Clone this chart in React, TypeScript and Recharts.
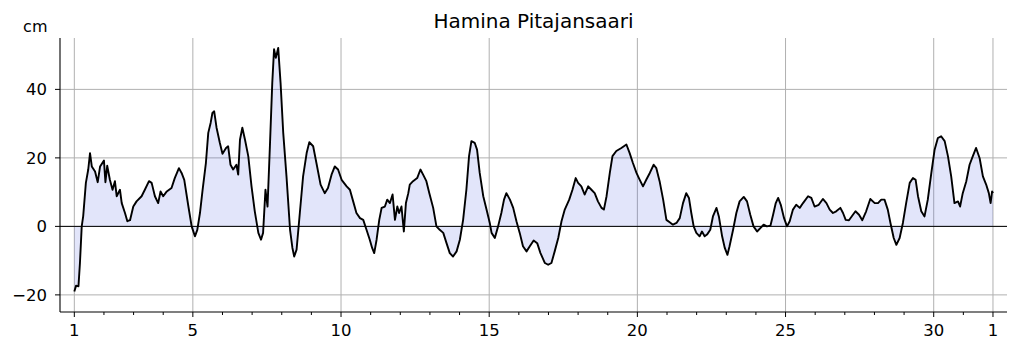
import React from 'react';
import { ComposedChart, Area, XAxis, YAxis, CartesianGrid, ReferenceLine } from 'recharts';

const TITLE = 'Hamina Pitajansaari';
const UNIT = 'cm';

// Day of month (fractional) for each sample; 32 = 1st of the following month
const DAYS = [
  1.00, 1.06, 1.14, 1.19, 1.25, 1.30, 1.39, 1.47, 1.53, 1.59, 1.70, 1.79, 1.87, 2.00, 2.05, 2.11, 2.20, 2.29, 2.37, 2.43,
  2.54, 2.60, 2.71, 2.79, 2.88, 2.99, 3.10, 3.27, 3.38, 3.52, 3.61, 3.72, 3.83, 3.91, 4.00, 4.12, 4.28, 4.39, 4.53, 4.62,
  4.71, 4.85, 4.96, 5.07, 5.15, 5.24, 5.33, 5.44, 5.52, 5.60, 5.66, 5.72, 5.80, 5.91, 6.00, 6.12, 6.19, 6.27, 6.36, 6.47,
  6.53, 6.59, 6.67, 6.76, 6.87, 6.98, 7.09, 7.21, 7.30, 7.37, 7.45, 7.52, 7.60, 7.68, 7.74, 7.80, 7.88, 7.96, 8.05, 8.16,
  8.28, 8.36, 8.42, 8.50, 8.61, 8.72, 8.84, 8.93, 9.06, 9.17, 9.31, 9.45, 9.56, 9.68, 9.79, 9.90, 10.02, 10.19, 10.30, 10.41,
  10.52, 10.64, 10.75, 10.86, 10.97, 11.05, 11.12, 11.20, 11.29, 11.37, 11.48, 11.56, 11.65, 11.74, 11.82, 11.90, 11.96, 12.04, 12.12, 12.19,
  12.27, 12.32, 12.43, 12.57, 12.68, 12.77, 12.88, 12.98, 13.11, 13.22, 13.33, 13.45, 13.56, 13.67, 13.78, 13.90, 14.01, 14.12, 14.23, 14.32,
  14.40, 14.51, 14.59, 14.68, 14.80, 14.91, 15.02, 15.08, 15.19, 15.30, 15.41, 15.50, 15.58, 15.70, 15.81, 15.92, 16.03, 16.14, 16.26, 16.37,
  16.50, 16.62, 16.73, 16.88, 16.99, 17.10, 17.21, 17.33, 17.44, 17.55, 17.70, 17.81, 17.92, 18.00, 18.11, 18.22, 18.34, 18.45, 18.56, 18.67,
  18.79, 18.87, 18.96, 19.07, 19.16, 19.29, 19.46, 19.63, 19.74, 19.85, 19.97, 20.08, 20.19, 20.30, 20.42, 20.55, 20.64, 20.75, 20.87, 20.98,
  21.09, 21.20, 21.32, 21.43, 21.54, 21.65, 21.74, 21.82, 21.90, 21.99, 22.10, 22.18, 22.27, 22.35, 22.46, 22.55, 22.67, 22.75, 22.86, 22.95,
  23.04, 23.11, 23.23, 23.34, 23.45, 23.59, 23.70, 23.81, 23.92, 24.04, 24.15, 24.26, 24.37, 24.49, 24.58, 24.67, 24.75, 24.84, 24.95, 25.05,
  25.14, 25.25, 25.36, 25.48, 25.59, 25.76, 25.87, 25.98, 26.12, 26.26, 26.38, 26.49, 26.60, 26.71, 26.85, 26.94, 27.03, 27.14, 27.25, 27.36,
  27.48, 27.59, 27.72, 27.86, 28.01, 28.12, 28.23, 28.34, 28.45, 28.54, 28.65, 28.74, 28.85, 28.96, 29.07, 29.19, 29.30, 29.39, 29.47, 29.58,
  29.69, 29.80, 29.92, 30.03, 30.14, 30.25, 30.37, 30.48, 30.59, 30.70, 30.82, 30.89, 30.98, 31.10, 31.21, 31.32, 31.43, 31.55, 31.66, 31.77,
  31.86, 31.92, 31.97, 32.00,
];

// Sea level in cm
const LEVELS = [
  -19, -17.3, -17.5, -10.7, 0, 3, 12.7, 16.6, 21.4, 17.5, 16, 12.9, 17.5, 19.2, 12.9, 17.7, 13.6, 10.7, 13.2, 8.8,
  10.7, 6.8, 3.9, 1.5, 1.8, 5.8, 7.3, 8.8, 10.7, 13.2, 12.7, 8.8, 6.8, 10.2, 8.8, 10.2, 11.2, 14.1, 17, 15.6,
  13.6, 5.8, 0, -2.9, -1, 3.9, 10.7, 18.5, 27.3, 30.2, 33.1, 33.6, 28.8, 24.4, 21.2, 22.9, 23.4, 18, 16.6, 18,
  15.1, 25.3, 28.8, 25.3, 20.5, 11.7, 4.4, -1.9, -3.9, -1.9, 10.7, 5.8, 23.4, 41.9, 51.7, 49.2, 52.1, 41.9, 27.3, 14.6,
  -1, -6.3, -8.8, -6.8, 3.9, 14.6, 21.4, 24.6, 23.4, 18.5, 12.2, 9.7, 11.2, 15.1, 17.5, 16.6, 13.6, 11.7, 10.7, 7.3,
  3.9, 2.4, 1.9, -1, -3.9, -6.3, -7.8, -3.9, 1.9, 5.4, 5.8, 7.8, 6.8, 9.3, 1.9, 5.8, 3.9, 5.8, -1.5, 6.8,
  9.7, 12.2, 13.2, 14.1, 16.6, 15.1, 13.2, 9.7, 5.4, 0, -1, -1.9, -4.9, -7.8, -8.8, -7.3, -3.9, 1.9, 10.7, 20.5,
  24.9, 24.4, 22.4, 15.6, 8.8, 4.9, 1, -1.9, -3.4, 0, 3.9, 7.8, 9.7, 7.8, 5.4, 1.5, -1.9, -5.8, -7.3, -5.8,
  -4.1, -4.9, -7.8, -10.7, -11.2, -10.7, -7.3, -3.4, 1.5, 4.9, 7.8, 10.7, 14.1, 12.7, 11.7, 9.3, 11.7, 10.7, 9.7, 7.3,
  5.4, 4.9, 8.8, 15.6, 20.5, 22, 22.9, 23.9, 21.4, 18.5, 15.6, 13.6, 11.7, 13.6, 15.6, 18, 17, 13.2, 7.8, 1.9,
  1.2, 0.5, 1, 2.4, 6.8, 9.7, 8.3, 3.9, 0, -1.9, -2.9, -1.5, -2.9, -2.4, -1, 2.9, 5.4, 2.9, -2.9, -6.3,
  -8.3, -5.8, -1, 3.9, 7.3, 8.6, 7.3, 3.4, 0, -1.5, -0.5, 0.5, 0, 0.2, 3.4, 6.8, 8.3, 6.3, 2.4, 0,
  1.5, 4.9, 6.3, 5.4, 6.8, 8.8, 8.3, 5.8, 6.3, 8, 6.8, 4.9, 3.9, 4.4, 5.4, 3.9, 1.9, 1.8, 3.1, 4.4,
  3.4, 1.8, 4.4, 8, 6.8, 6.8, 7.8, 7.8, 4.9, 1, -3.4, -5.4, -3.4, 1, 6.8, 12.7, 14.1, 13.6, 8.8, 4.4,
  2.9, 7.8, 15.6, 22.4, 25.8, 26.3, 24.9, 20.5, 14.6, 6.8, 7.3, 5.8, 9.7, 13.2, 18, 20.5, 22.9, 19.9, 14.6, 12.2,
  9.7, 6.8, 10.2, 9.7,
];

const X_TICKS = [1, 2, 3, 4, 5, 6, 7, 8, 9, 10, 11, 12, 13, 14, 15, 16, 17, 18, 19, 20, 21, 22, 23, 24, 25, 26, 27, 28, 29, 30, 31, 32];
const MAJOR_DAYS = [1, 5, 10, 15, 20, 25, 30, 32];
const MAJOR_LABELS = ['1', '5', '10', '15', '20', '25', '30', '1'];
const Y_TICKS = [-20, 0, 20, 40];

const X_DOMAIN: [number, number] = [0.517, 32.473];
const Y_DOMAIN: [number, number] = [-25, 55];

const data = DAYS.map((day, i) => ({ day, level: LEVELS[i] }));

const FONT = '"DejaVu Sans", Verdana, sans-serif';

function DayTick(props: any) {
  const { x, y, payload } = props;
  const v = payload.value;
  const idx = MAJOR_DAYS.indexOf(v);
  const major = idx >= 0;
  return (
    <g>
      <line x1={x} x2={x} y1={y} y2={y + (major ? 5 : 3)} stroke="#000" strokeWidth={1} />
      {major && (
        <text x={x} y={y + 24} textAnchor="middle" fontSize={16.5} fontFamily={FONT} fill="#000">
          {MAJOR_LABELS[idx]}
        </text>
      )}
    </g>
  );
}

const fmtY = (v: number) => (v < 0 ? '\u2212' + Math.abs(v) : String(v));

export default function App() {
  return (
    <div style={{ position: 'absolute', left: 0, top: 0, width: 1019, height: 352, background: '#fff' }}>
      <ComposedChart
        width={1019}
        height={352}
        data={data}
        margin={{ top: 38, right: 12, bottom: 10, left: 0 }}
      >
        <CartesianGrid
          stroke="#b0b0b0"
          strokeWidth={1}
          verticalValues={MAJOR_DAYS}
          horizontalValues={Y_TICKS}
        />
        <XAxis
          dataKey="day"
          type="number"
          domain={X_DOMAIN}
          allowDataOverflow
          ticks={X_TICKS}
          interval={0}
          tickSize={0}
          tickMargin={0}
          tickLine={false}
          tick={<DayTick />}
          height={30}
          axisLine={{ stroke: '#000', strokeWidth: 1.1 }}
        />
        <XAxis
          xAxisId="top"
          orientation="top"
          type="number"
          domain={X_DOMAIN}
          allowDataOverflow
          height={0}
          tick={false}
          tickLine={false}
          axisLine={{ stroke: '#000', strokeWidth: 1.1 }}
        />
        <YAxis
          type="number"
          domain={Y_DOMAIN}
          allowDataOverflow
          ticks={Y_TICKS}
          interval={0}
          width={60}
          tickSize={5}
          tickMargin={8}
          tickFormatter={fmtY}
          tick={{ fill: '#000', fontSize: 16.5, fontFamily: FONT }}
          tickLine={{ stroke: '#000' }}
          axisLine={{ stroke: '#000', strokeWidth: 1.1 }}
        />
        <YAxis
          yAxisId="right"
          orientation="right"
          type="number"
          domain={Y_DOMAIN}
          allowDataOverflow
          width={0}
          tick={false}
          tickLine={false}
          axisLine={{ stroke: '#000', strokeWidth: 1.1 }}
        />
        <Area
          type="linear"
          dataKey="level"
          baseValue={0}
          stroke="#000"
          strokeWidth={1.9}
          strokeLinejoin="round"
          fill="#3344dd"
          fillOpacity={0.14}
          isAnimationActive={false}
          dot={false}
          activeDot={false}
        />
        <ReferenceLine y={0} stroke="#000" strokeWidth={1} />
      </ComposedChart>
      <svg
        width={1019}
        height={352}
        style={{ position: 'absolute', left: 0, top: 0, pointerEvents: 'none' }}
      >
        <text x={533.5} y={28} textAnchor="middle" fontSize={20} fontFamily={FONT} fill="#000">
          {TITLE}
        </text>
        <text x={47.5} y={32} textAnchor="end" fontSize={16} fontFamily={FONT} fill="#000">
          {UNIT}
        </text>
      </svg>
    </div>
  );
}
